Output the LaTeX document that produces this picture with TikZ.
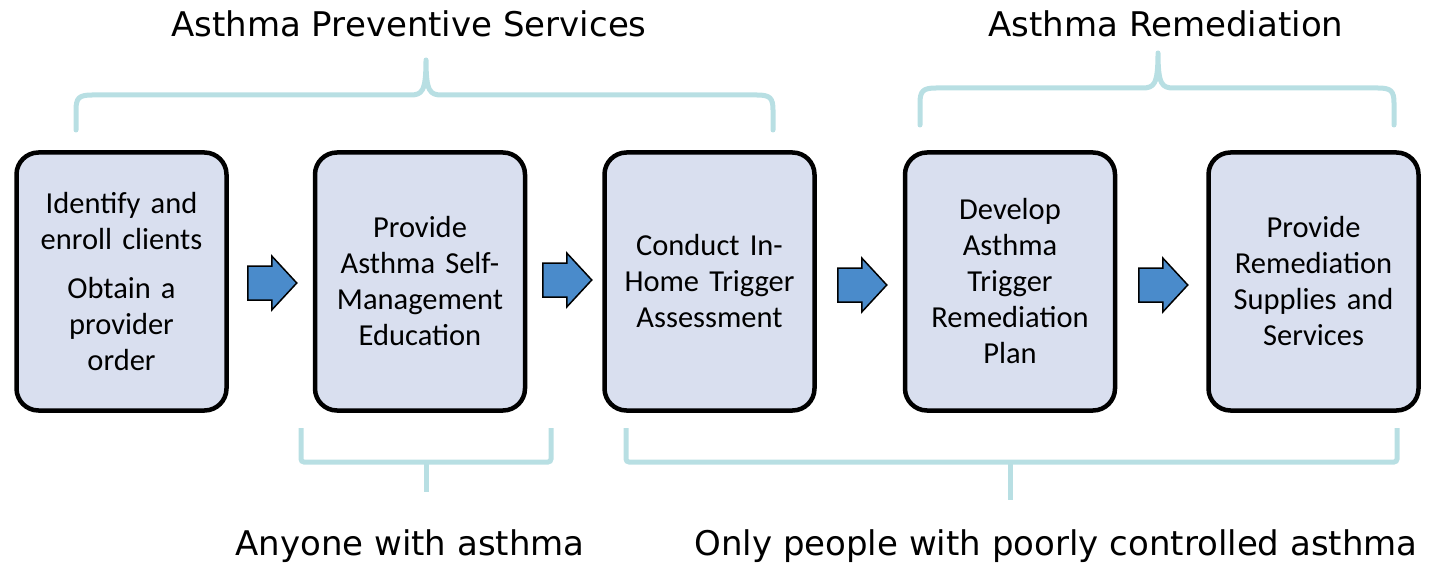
\documentclass[tikz,border=0pt]{standalone}
\usepackage{fontspec}
\setmainfont{Carlito}
\newfontfamily\vfont{DejaVu Sans}
\usetikzlibrary{calc}
\definecolor{boxfill}{HTML}{D9DFEF}
\definecolor{arrowfill}{HTML}{4A8BCB}
\definecolor{bracecol}{HTML}{B8DFE3}
\begin{document}
\begin{tikzpicture}[x=1pt,y=-1pt,
  box/.style={draw=black, line width=4.5pt, fill=boxfill, rounded corners=22pt,
    minimum width=210pt, minimum height=258pt, align=center, inner sep=0pt,
    text width=205pt, font=\fontsize{30.5}{36}\selectfont},
  brace/.style={draw=bracecol, line width=5pt, line join=round, line cap=round},
  bracket/.style={draw=bracecol, line width=5pt, rounded corners=3pt},
  title/.style={font=\vfont\fontsize{34}{40}\selectfont, anchor=base, inner sep=0pt},
  blockarrow/.pic={\filldraw[fill=arrowfill, draw=black, line width=1.5pt, line join=miter]
    (-24,-17) -- (0,-17) -- (0,-27) -- (25,0) -- (0,27) -- (0,17) -- (-24,17) -- cycle;}
]
\useasboundingbox (0,0) rectangle (1432,567);

% boxes
\node[box] (b1) at (121.5,281.5) {Identify and\\enroll clients\\[13pt]Obtain a\\provider\\order};
\node[box] (b2) at (420,281.5) {Provide\\Asthma Self-\\Management\\Education};
\node[box] (b3) at (709.5,281.5) {Conduct In-\\Home Trigger\\Assessment};
\node[box] (b4) at (1010,281.5) {Develop\\Asthma\\Trigger\\Remediation\\Plan};
\node[box] (b5) at (1313.5,281.5) {Provide\\Remediation\\Supplies and\\Services};

% block arrows between boxes
\pic at ($($(b1.east)!0.5!(b2.west)$)+(1,1.5)$) {blockarrow};
\pic at ($($(b2.east)!0.5!(b3.west)$)+(2,-1.5)$) {blockarrow};
\pic at ($($(b3.east)!0.5!(b4.west)$)+(2,3.5)$) {blockarrow};
\pic at ($($(b4.east)!0.5!(b5.west)$)+(1,3.5)$) {blockarrow};

% top braces
\draw[brace] (76,130) -- (76,110) .. controls (76,98) and (79,95) .. (92,95)
  -- (410,95) .. controls (422,95) and (426,92) .. (426,60)
  .. controls (426,92) and (430,95) .. (442,95)
  -- (757,95) .. controls (770,95) and (773,98) .. (773,110) -- (773,130);
\draw[brace] (920,125) -- (920,103) .. controls (920,91) and (923,88) .. (936,88)
  -- (1142,88) .. controls (1154,88) and (1158,85) .. (1158,53)
  .. controls (1158,85) and (1162,88) .. (1174,88)
  -- (1378,88) .. controls (1391,88) and (1394,91) .. (1394,103) -- (1394,125);

% bottom brackets
\draw[bracket] (301,428) -- (301,462) -- (551,462) -- (551,428);
\draw[bracket] (426,462) -- (426,492);
\draw[bracket] (626,428) -- (626,462) -- (1397,462) -- (1397,428);
\draw[bracket] (1010,462) -- (1010,500);

% titles
\node[title] (t1) at (409,37) {Asthma Preventive Services};
\node[title] (t2) at (1166,37) {Asthma Remediation};
\node[title] (t3) at (410,555) {Anyone with asthma};
\node[title] (t4) at (1056,555) {Only people with poorly controlled asthma};
\end{tikzpicture}
\end{document}
